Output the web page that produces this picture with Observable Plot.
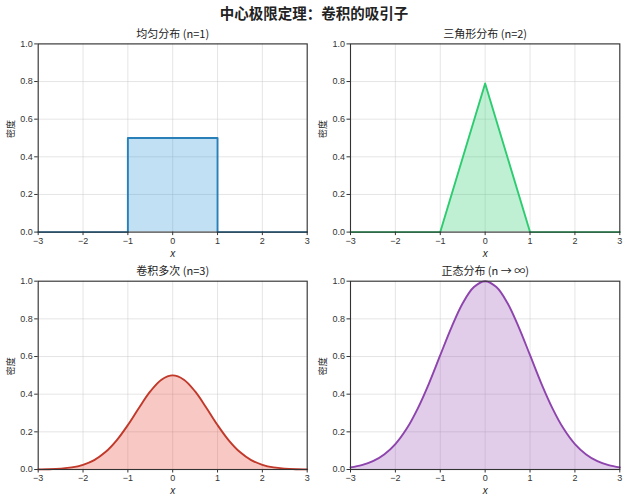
<!DOCTYPE html>
<html>
<head>
<meta charset="utf-8">
<script src="https://cdn.jsdelivr.net/npm/d3@7"></script>
<script src="https://cdn.jsdelivr.net/npm/@observablehq/plot@0.6"></script>
<style>
  html, body { margin: 0; padding: 0; background: #fff; }
  #wrap { position: relative; width: 628px; height: 500px; overflow: hidden; font-family: "Noto Sans CJK SC", "DejaVu Sans", sans-serif; }
  #title { position: absolute; left: 0; top: 2px; width: 628px; text-align: center; font-size: 14.5px; font-weight: bold; color: #222; }
  .panel { position: absolute; }
</style>
</head>
<body>
<div id="wrap">
  <div id="title">中心极限定理：卷积的吸引子</div>
</div>
<script>
// ---- data ----
const panelTitles = ["均匀分布 (n=1)", "三角形分布 (n=2)", "卷积多次 (n=3)", "正态分布 (n → ∞)"];
const xTicks = [-3, -2, -1, 0, 1, 2, 3];
const yTicks = [0, 0.2, 0.4, 0.6, 0.8, 1.0];

const uniformX = [-3, -1, -1, 1, 1, 3];
const uniformY = [0, 0, 0.5, 0.5, 0, 0];

const triangleX = [-3, -1, 0, 1, 3];
const triangleY = [0, 0, 0.79, 0, 0];

const smoothX = [-3, -2.75, -2.5, -2.25, -2, -1.75, -1.5, -1.25, -1, -0.75, -0.5, -0.25, 0,
                 0.25, 0.5, 0.75, 1, 1.25, 1.5, 1.75, 2, 2.25, 2.5, 2.75, 3];
const conv3Y = [0.0006, 0.0017, 0.0046, 0.011, 0.025, 0.050, 0.0925, 0.155, 0.236, 0.328, 0.4145, 0.477, 0.5,
                0.477, 0.4145, 0.328, 0.236, 0.155, 0.0925, 0.050, 0.025, 0.011, 0.0046, 0.0017, 0.0006];
const normalY = [0.011, 0.023, 0.044, 0.080, 0.135, 0.216, 0.325, 0.458, 0.607, 0.755, 0.883, 0.969, 1.0,
                 0.969, 0.883, 0.755, 0.607, 0.458, 0.325, 0.216, 0.135, 0.080, 0.044, 0.023, 0.011];

const strokeColors = ["#2980b9", "#2ecc71", "#c0392b", "#8e44ad"];
const fillColors = ["#3498db", "#2ecc71", "#e74c3c", "#9b59b6"];

const seriesX = [uniformX, triangleX, smoothX, smoothX];
const seriesY = [uniformY, triangleY, conv3Y, normalY];
const curves = ["linear", "linear", "catmull-rom", "catmull-rom"];

// ---- layout ----
const cjkFont = "'Noto Sans CJK SC', 'DejaVu Sans', sans-serif";
const numFont = "'Liberation Sans', 'DejaVu Sans', sans-serif";
const layout = [
  {left: 0,   top: 22,  width: 314, height: 236, mt: 21.4, mb: 26.4, ml: 37.7, mr: 7.3},
  {left: 314, top: 22,  width: 314, height: 236, mt: 21.4, mb: 26.4, ml: 36,   mr: 8.7},
  {left: 0,   top: 258, width: 314, height: 242, mt: 22.7, mb: 31,   ml: 37.7, mr: 7.3},
  {left: 314, top: 258, width: 314, height: 242, mt: 22.7, mb: 31,   ml: 36,   mr: 8.7}
];

const wrap = document.getElementById("wrap");

layout.forEach((L, i) => {
  const data = seriesX[i].map((x, j) => ({x, y: seriesY[i][j]}));
  const chart = Plot.plot({
    width: L.width,
    height: L.height,
    marginTop: L.mt,
    marginBottom: L.mb,
    marginLeft: L.ml,
    marginRight: L.mr,
    style: {fontFamily: numFont, fontSize: "9px", color: "#333", background: "transparent", overflow: "visible"},
    x: {domain: [-3, 3]},
    y: {domain: [0, 1]},
    marks: [
      Plot.gridX(xTicks, {stroke: "#c8c8c8", strokeOpacity: 0.6, strokeWidth: 0.8}),
      Plot.gridY(yTicks, {stroke: "#c8c8c8", strokeOpacity: 0.6, strokeWidth: 0.8}),
      Plot.areaY(data, {x: "x", y: "y", fill: fillColors[i], fillOpacity: 0.3, curve: curves[i]}),
      Plot.lineY(data, {x: "x", y: "y", stroke: strokeColors[i], strokeWidth: 1.9, curve: curves[i]}),
      Plot.frame({stroke: "#333", strokeWidth: 1.1}),
      Plot.axisX(xTicks, {tickSize: 3.5, tickPadding: 2, label: null, tickFormat: d => d3.format("d")(d).replace("-", "−"), stroke: "#333", fontSize: 9}),
      Plot.axisY(yTicks, {tickSize: 3.5, tickPadding: 2, label: null, tickFormat: d3.format(".1f"), stroke: "#333", fontSize: 9}),
      Plot.text([panelTitles[i]], {frameAnchor: "top", dy: -9.3, fontSize: 11, fill: "#222", lineAnchor: "middle", fontFamily: cjkFont}),
      Plot.text(["x"], {frameAnchor: "bottom", dy: 21.5, fontSize: 10, fontStyle: "italic", fill: "#222", lineAnchor: "middle"}),
      Plot.text(["密度"], {frameAnchor: "left", dx: -27.5, rotate: -90, fontSize: 9, fill: "#222", lineAnchor: "middle", fontFamily: cjkFont})
    ]
  });
  const div = document.createElement("div");
  div.className = "panel";
  div.style.left = L.left + "px";
  div.style.top = L.top + "px";
  div.appendChild(chart);
  wrap.appendChild(div);
});
</script>
</body>
</html>
